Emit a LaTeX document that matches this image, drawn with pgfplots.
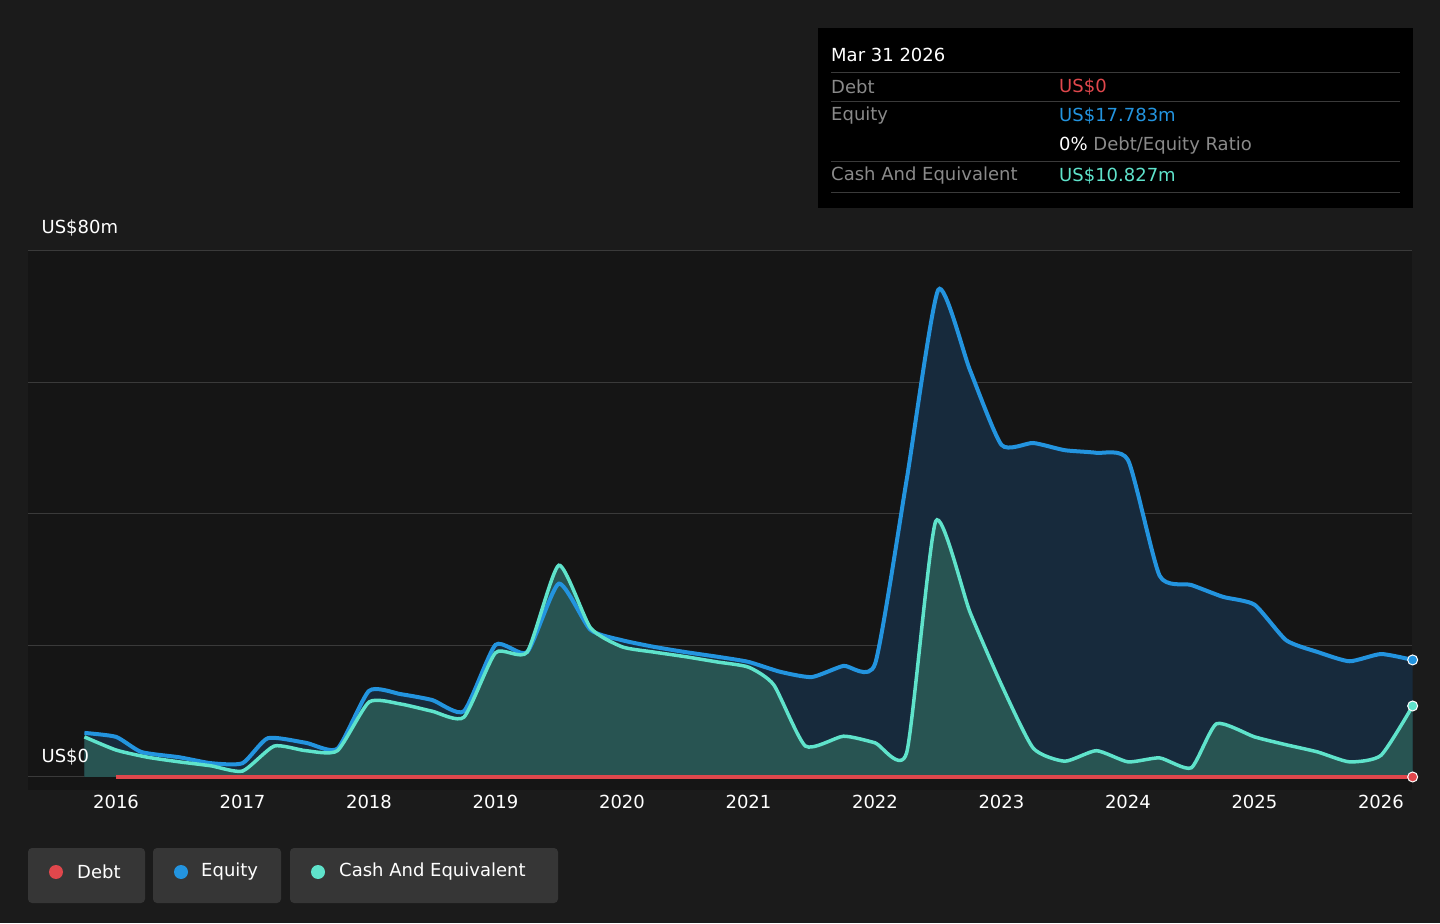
\documentclass[border=0pt]{standalone}
\usepackage{pgfplots}
\pgfplotsset{compat=1.18}
\usepackage{fontspec}
\setmainfont{DejaVu Sans}
\definecolor{bg}{HTML}{1B1B1B}
\definecolor{plotbg}{HTML}{151515}
\definecolor{eq}{HTML}{2394DF}
\definecolor{cash}{HTML}{5FE3CB}
\definecolor{debt}{HTML}{E0474C}
\definecolor{grid}{HTML}{3A3A3A}
\definecolor{lbl}{HTML}{8A8A8A}
\definecolor{eqfill}{HTML}{172A3C}
\definecolor{cashfill}{HTML}{285452}
\pgfplotstableread{
x y
2015.75 6.7
2016.0 6.1
2016.2 3.8
2016.5 3.0
2016.75 2.1
2017.0 2.1
2017.2 5.9
2017.5 5.2
2017.75 4.3
2018.0 13.1
2018.25 12.6
2018.5 11.7
2018.75 10.0
2019.0 20.1
2019.25 19.0
2019.5 29.4
2019.75 22.4
2020.0 20.8
2020.25 19.8
2020.5 19.0
2020.75 18.3
2021.0 17.5
2021.25 16.0
2021.5 15.2
2021.75 16.9
2022.0 17.2
2022.25 45.2
2022.5 74.1
2022.75 61.9
2023.0 50.5
2023.25 50.8
2023.5 49.7
2023.75 49.3
2024.0 48.2
2024.25 30.6
2024.5 29.2
2024.75 27.4
2025.0 26.2
2025.25 20.8
2025.5 19.0
2025.75 17.6
2026.0 18.7
2026.25 17.8
}\equity
\pgfplotstableread{
x y
2015.75 6.1
2016.0 4.1
2016.25 3.0
2016.5 2.3
2016.75 1.7
2017.0 0.9
2017.25 4.7
2017.5 4.0
2017.75 4.0
2018.0 11.4
2018.25 11.1
2018.5 10.0
2018.75 9.1
2019.0 18.9
2019.25 19.0
2019.5 32.2
2019.75 22.7
2020.0 19.8
2020.25 19.0
2020.5 18.3
2020.75 17.5
2021.0 16.7
2021.2 14.0
2021.45 4.7
2021.75 6.2
2022.0 5.2
2022.25 3.7
2022.48 38.9
2022.75 25.1
2023.0 14.0
2023.25 4.4
2023.5 2.4
2023.75 4.0
2024.0 2.3
2024.25 2.9
2024.5 1.4
2024.7 8.1
2025.0 6.1
2025.25 4.9
2025.5 3.8
2025.75 2.3
2026.0 3.3
2026.25 10.8
}\cash
\pgfplotstableread{
x y
2016.0 0
2026.25 0
}\debt
\begin{document}
\begin{tikzpicture}[font=\fontsize{18bp}{21bp}\selectfont]
\begin{scope}[x=1bp,y=1bp]
\fill[bg] (0,0) rectangle (1440,923);
\end{scope}
\begin{axis}[at={(28bp,133bp)},anchor=south west,scale only axis,width=1384bp,height=539bp,
 xmin=2015.304,xmax=2026.245,ymin=-1.98,ymax=80,
 axis line style={draw=none},axis background/.style={fill=plotbg},
 xtick={2016,...,2026},xticklabel style={white,yshift=-2bp},
 xticklabel={\pgfmathprintnumber[fixed,precision=0,1000 sep={}]{\tick}},
 /pgf/number format/assume math mode=true,
 ytick={0,20,40,60,80},yticklabels={},ymajorgrids,xmajorgrids=false,grid style={draw=grid,line width=1bp},
 major tick length=0pt,clip=false]
\addplot[draw=none,fill=eqfill,smooth,tension=0.35] table{\equity} \closedcycle;
\addplot[draw=none,fill=cashfill,smooth,tension=0.35] table{\cash} \closedcycle;
\addplot[eq,line width=4bp,smooth,tension=0.35] table{\equity};
\addplot[cash,line width=3.5bp,smooth,tension=0.35] table{\cash};
\addplot[debt,line width=4bp] table{\debt};
\addplot[only marks,mark=*,mark size=5bp,mark options={fill=eq,draw=white,line width=1bp}] coordinates{(2026.25,17.8)};
\addplot[only marks,mark=*,mark size=5bp,mark options={fill=cash,draw=white,line width=1bp}] coordinates{(2026.25,10.8)};
\addplot[only marks,mark=*,mark size=5bp,mark options={fill=debt,draw=white,line width=1bp}] coordinates{(2026.25,0)};
\node[white,anchor=south west,inner sep=0pt] at (axis cs:2015.41,82.2) {US\$80m};
\node[white,anchor=south west,inner sep=0pt] at (axis cs:2015.41,1.8) {US\$0};
\end{axis}
\begin{scope}[x=1bp,y=1bp]
\fill[black] (818,715) rectangle (1413,895);
\node[white,anchor=west,inner sep=0pt] at (831,868) {Mar 31 2026};
\draw[grid,line width=1bp] (831,850)--(1400,850) (831,821)--(1400,821) (831,761)--(1400,761) (831,730)--(1400,730);
\node[lbl,anchor=west,inner sep=0pt] at (831,836) {Debt};
\node[debt,anchor=west,inner sep=0pt] at (1059,836) {US\$0};
\node[lbl,anchor=west,inner sep=0pt] at (831,807) {Equity};
\node[eq,anchor=west,inner sep=0pt] at (1059,807) {US\$17.783m};
\node[anchor=west,inner sep=0pt] at (1059,777) {\textcolor{white}{0\%} \textcolor{lbl}{Debt/Equity Ratio}};
\node[lbl,anchor=west,inner sep=0pt] at (831,747) {Cash And Equivalent};
\node[cash,anchor=west,inner sep=0pt] at (1059,747) {US\$10.827m};
\fill[white!12!bg,rounded corners=4bp] (28,20) rectangle (145,75);
\fill[white!12!bg,rounded corners=4bp] (153,20) rectangle (281,75);
\fill[white!12!bg,rounded corners=4bp] (290,20) rectangle (558,75);
\fill[debt] (56,51) circle (7);
\node[white,anchor=west,inner sep=0pt] at (77,51) {Debt};
\fill[eq] (181,51) circle (7);
\node[white,anchor=west,inner sep=0pt] at (201,51) {Equity};
\fill[cash] (318,51) circle (7);
\node[white,anchor=west,inner sep=0pt] at (339,51) {Cash And Equivalent};
\end{scope}
\end{tikzpicture}
\end{document}
